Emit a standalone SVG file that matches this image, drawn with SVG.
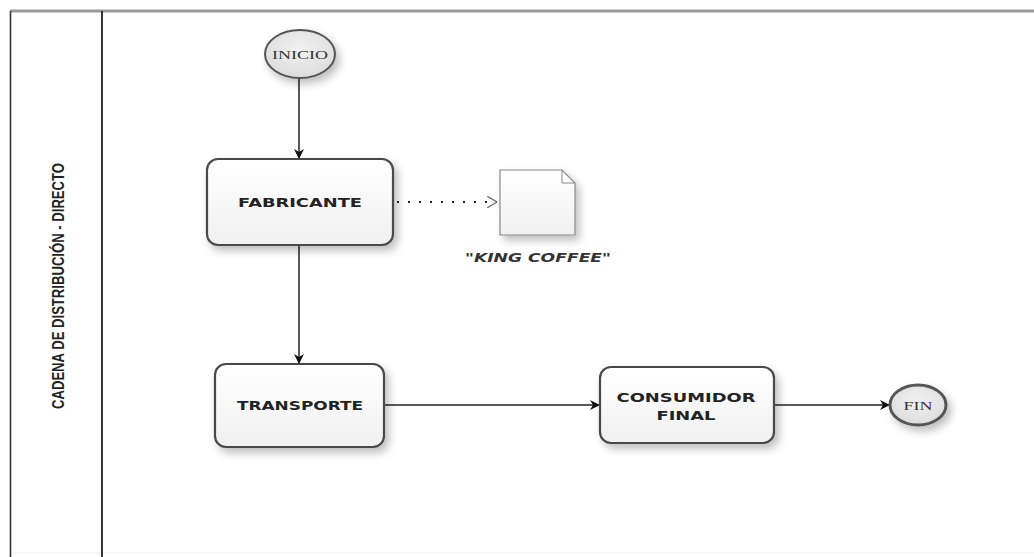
<svg xmlns="http://www.w3.org/2000/svg" width="1034" height="557" viewBox="0 0 1034 557">
<style>
.box{fill:url(#g);stroke:#4a4a4a;stroke-width:2.2;filter:url(#sh)}
.lbl{font-family:"DejaVu Sans",Verdana,sans-serif;font-weight:bold;font-size:12.5px;fill:#222;text-anchor:middle}
.ev{font-family:"Liberation Serif","Times New Roman",serif;font-size:13px;fill:#333;text-anchor:middle}
.conn{stroke:#222;stroke-width:1.5;fill:none}
</style>
<defs>
<linearGradient id="g" x1="0" y1="0" x2="0" y2="1"><stop offset="0" stop-color="#ffffff"/><stop offset="1" stop-color="#f0f0f0"/></linearGradient>
<radialGradient id="eg" cx="0.5" cy="0.4" r="0.6"><stop offset="0" stop-color="#f2f2f2"/><stop offset="1" stop-color="#dcdcdc"/></radialGradient>
<filter id="sh" x="-20%" y="-20%" width="150%" height="160%"><feDropShadow dx="4" dy="5" stdDeviation="4" flood-color="#000" flood-opacity="0.25"/></filter>
<marker id="ar" viewBox="0 0 10 10" refX="9" refY="5" markerWidth="10" markerHeight="10" markerUnits="userSpaceOnUse" orient="auto"><path d="M0,0 L10,5 L0,10 L3,5 z" fill="#111"/></marker>
<marker id="oa" viewBox="0 0 10 12" refX="10" refY="6" markerWidth="10" markerHeight="12" markerUnits="userSpaceOnUse" orient="auto"><path d="M0,0 L10,6 L0,12" fill="none" stroke="#666" stroke-width="1.2"/></marker>
</defs>
<rect width="1034" height="557" fill="#fff"/>
<g id="pool">
<line x1="10" y1="11" x2="1034" y2="11" stroke="#999" stroke-width="3"/>
<line x1="10" y1="553" x2="1034" y2="553" stroke="#eee" stroke-width="1"/>
<line x1="10.5" y1="11" x2="10.5" y2="557" stroke="#333" stroke-width="1.6"/>
<line x1="102" y1="11" x2="102" y2="557" stroke="#222" stroke-width="1.8"/>
<text transform="translate(64,286) rotate(-90)" font-family="'Liberation Sans',Arial,sans-serif" font-weight="bold" font-size="16" fill="#222" text-anchor="middle" textLength="246" lengthAdjust="spacingAndGlyphs">CADENA DE DISTRIBUCIÓN - DIRECTO</text>
</g>
<g id="connectors">
<line class="conn" x1="299" y1="78" x2="299" y2="158" marker-end="url(#ar)"/>
<line class="conn" x1="299" y1="245" x2="299" y2="363" marker-end="url(#ar)"/>
<line class="conn" x1="384" y1="405" x2="599" y2="405" marker-end="url(#ar)"/>
<line class="conn" x1="774" y1="405" x2="889" y2="405" marker-end="url(#ar)"/>
<line x1="397" y1="202" x2="497" y2="202" stroke="#222" stroke-width="2" stroke-dasharray="2,9" fill="none" marker-end="url(#oa)"/>
</g>
<g id="inicio">
<ellipse cx="300" cy="54" rx="35" ry="24" fill="url(#eg)" stroke="#555" stroke-width="2" filter="url(#sh)"/>
<text class="ev" x="300" y="59" textLength="56" lengthAdjust="spacingAndGlyphs">INICIO</text>
</g>
<g id="fabricante">
<rect class="box" x="207" y="159" width="186" height="86" rx="11"/>
<text class="lbl" x="300" y="207" textLength="124" lengthAdjust="spacingAndGlyphs">FABRICANTE</text>
</g>
<g id="king-coffee">
<path d="M500,170 L562,170 L575,183 L575,235 L500,235 Z" fill="url(#g)" stroke="#888" stroke-width="1.2" filter="url(#sh)"/>
<path d="M562,170 L562,183 L575,183" fill="none" stroke="#888" stroke-width="1"/>
<text x="538" y="262" font-family="'DejaVu Sans',Verdana,sans-serif" font-weight="bold" font-style="italic" font-size="12.5" fill="#333" text-anchor="middle" textLength="146" lengthAdjust="spacingAndGlyphs">"KING COFFEE"</text>
</g>
<g id="transporte">
<rect class="box" x="215" y="364" width="169" height="83" rx="11"/>
<text class="lbl" x="300" y="410" textLength="126" lengthAdjust="spacingAndGlyphs">TRANSPORTE</text>
</g>
<g id="consumidor">
<rect class="box" x="600" y="367" width="174" height="76" rx="11"/>
<text class="lbl" x="686" y="402" textLength="139" lengthAdjust="spacingAndGlyphs">CONSUMIDOR</text>
<text class="lbl" x="686" y="420" textLength="59" lengthAdjust="spacingAndGlyphs">FINAL</text>
</g>
<g id="fin">
<ellipse cx="918" cy="405" rx="28" ry="20" fill="url(#eg)" stroke="#555" stroke-width="3" filter="url(#sh)"/>
<text class="ev" x="918" y="410" textLength="29" lengthAdjust="spacingAndGlyphs">FIN</text>
</g>
</svg>
